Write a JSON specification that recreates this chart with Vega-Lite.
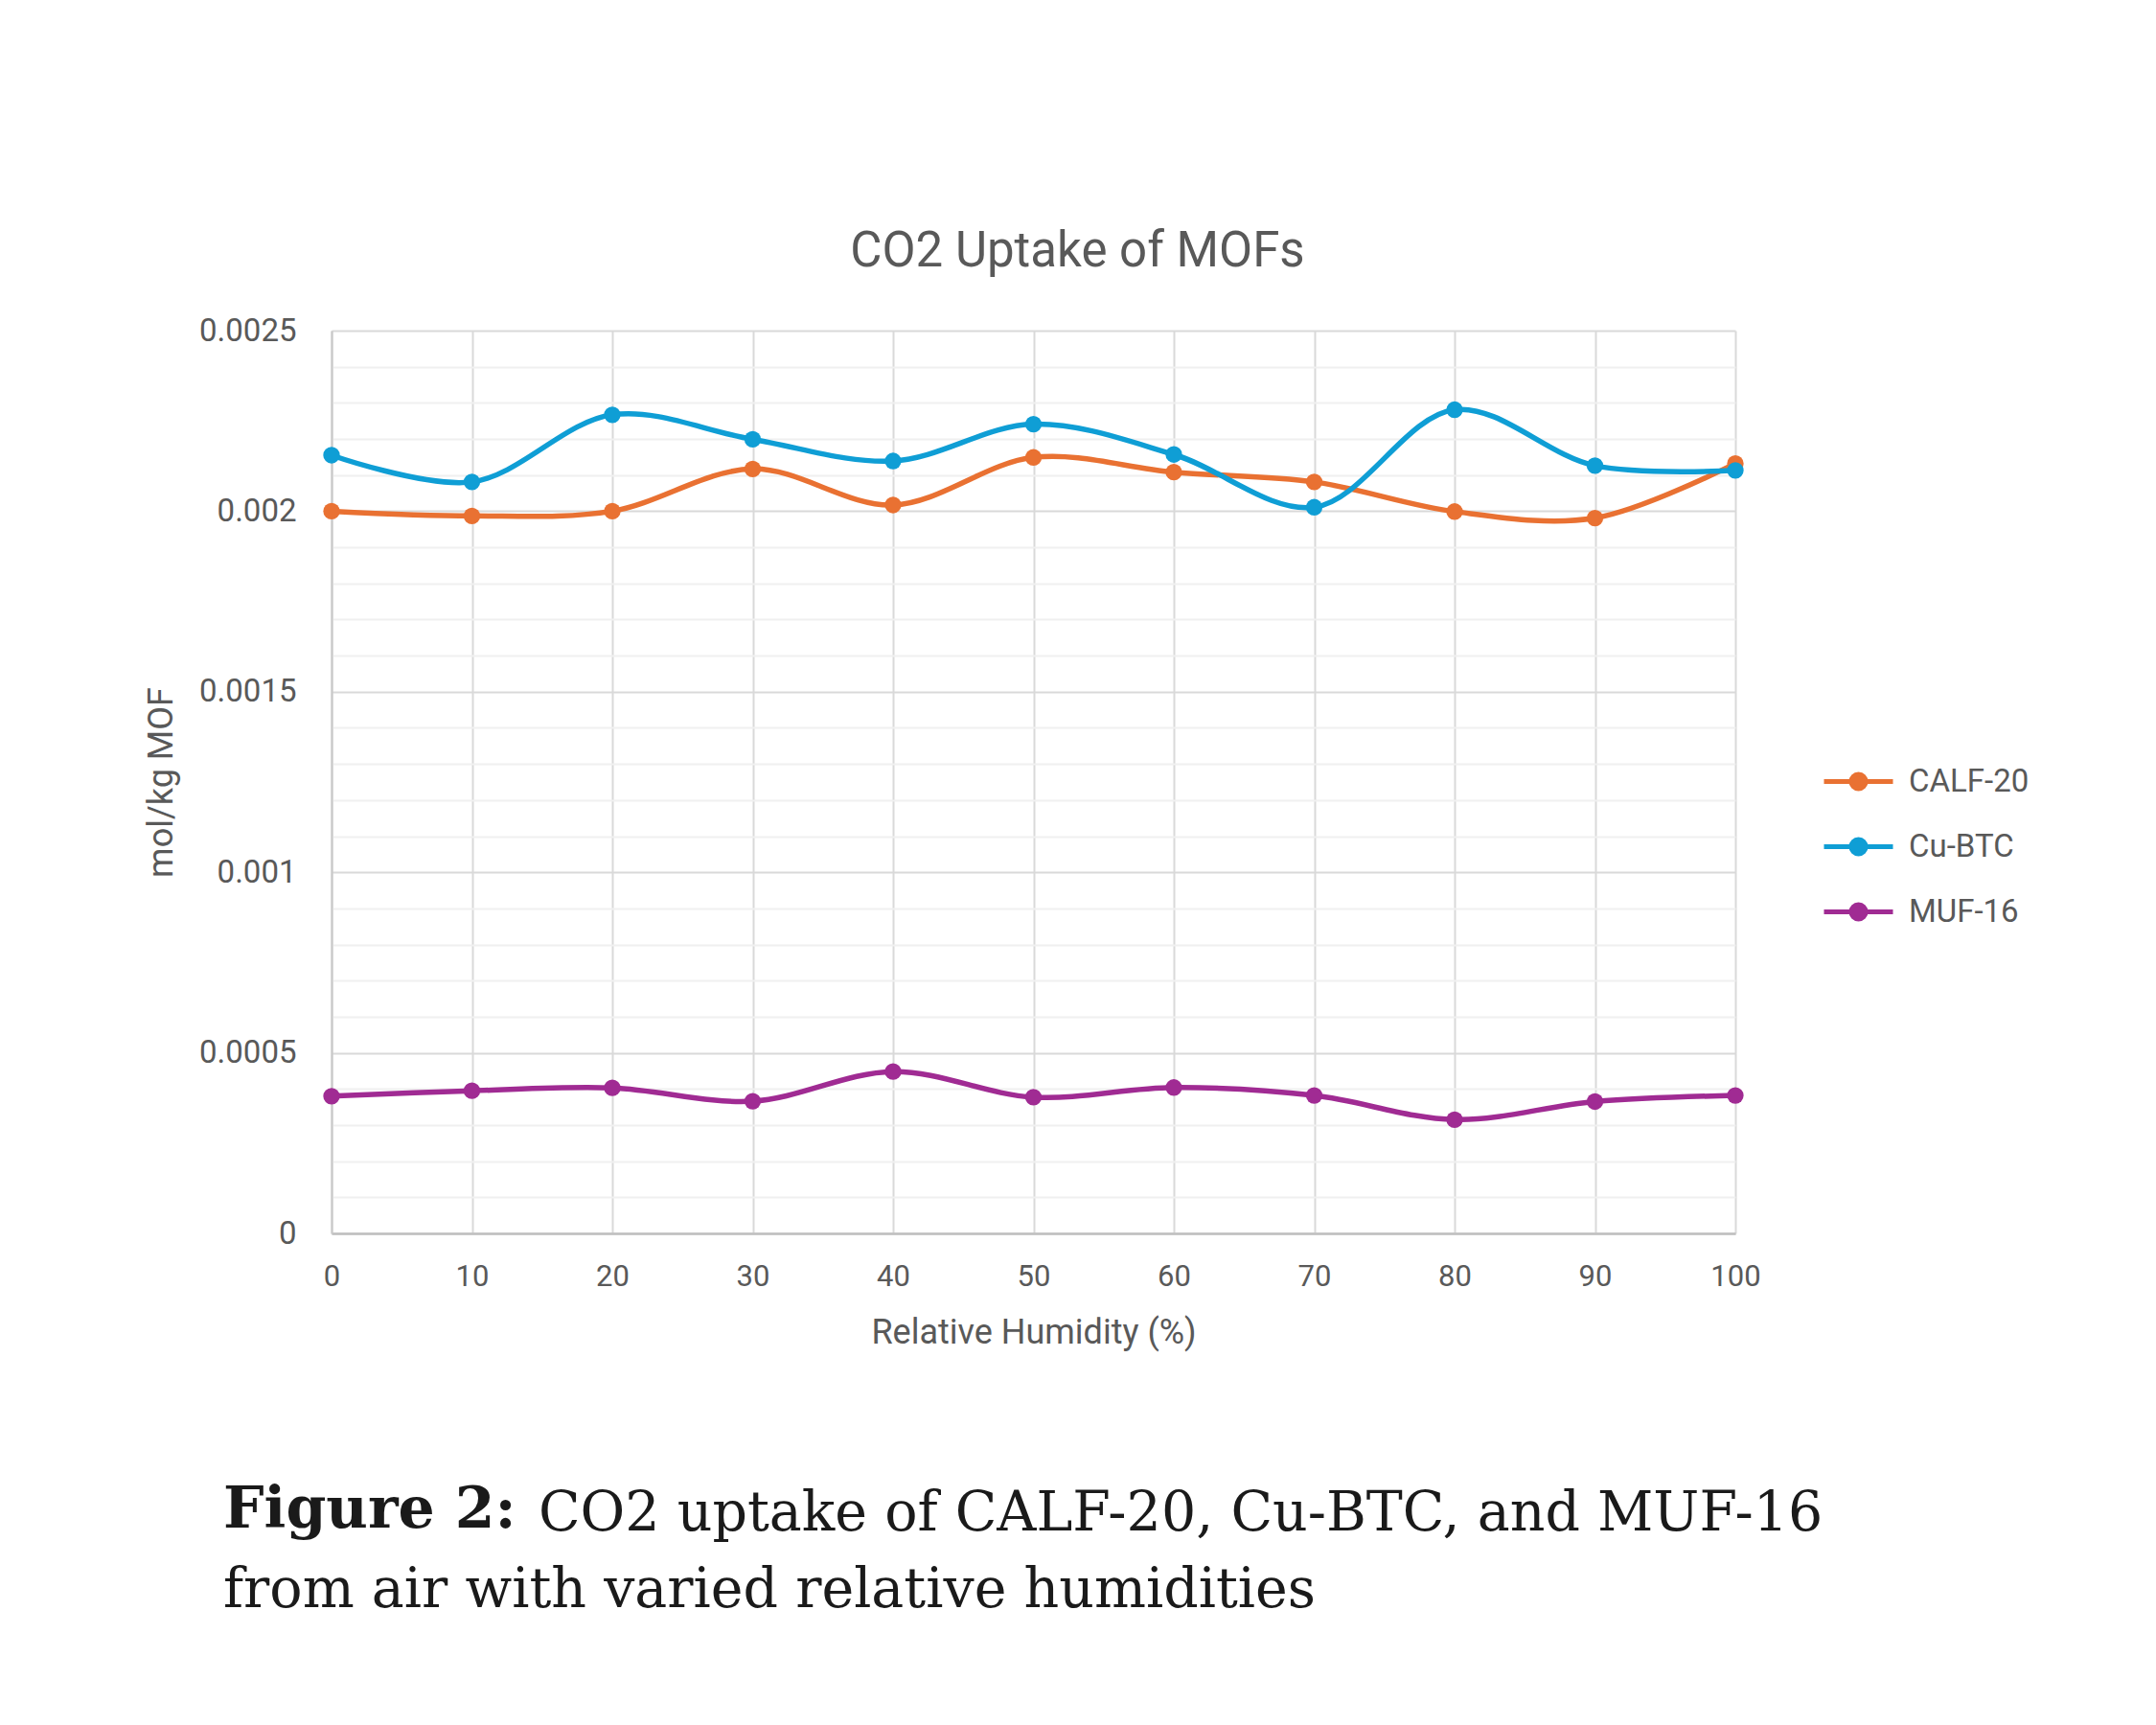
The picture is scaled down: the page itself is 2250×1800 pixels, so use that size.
{
  "$schema": "https://vega.github.io/schema/vega-lite/v6.json",
  "background": "white",
  "padding": {"top": 237, "left": 150, "right": 0, "bottom": 0},
  "config": {"view": {"stroke": null}, "font": "Roboto"},
  "datasets": {
    "mof": [
      {"rh": 0, "mof": "CALF-20", "uptake": 0.002},
      {"rh": 10, "mof": "CALF-20", "uptake": 0.001987},
      {"rh": 20, "mof": "CALF-20", "uptake": 0.002},
      {"rh": 30, "mof": "CALF-20", "uptake": 0.002117},
      {"rh": 40, "mof": "CALF-20", "uptake": 0.002017},
      {"rh": 50, "mof": "CALF-20", "uptake": 0.002149},
      {"rh": 60, "mof": "CALF-20", "uptake": 0.002108},
      {"rh": 70, "mof": "CALF-20", "uptake": 0.002081},
      {"rh": 80, "mof": "CALF-20", "uptake": 0.001999},
      {"rh": 90, "mof": "CALF-20", "uptake": 0.001981},
      {"rh": 100, "mof": "CALF-20", "uptake": 0.002132},
      {"rh": 0, "mof": "Cu-BTC", "uptake": 0.002155},
      {"rh": 10, "mof": "Cu-BTC", "uptake": 0.002081},
      {"rh": 20, "mof": "Cu-BTC", "uptake": 0.002267},
      {"rh": 30, "mof": "Cu-BTC", "uptake": 0.002199},
      {"rh": 40, "mof": "Cu-BTC", "uptake": 0.002139},
      {"rh": 50, "mof": "Cu-BTC", "uptake": 0.002241},
      {"rh": 60, "mof": "Cu-BTC", "uptake": 0.002157},
      {"rh": 70, "mof": "Cu-BTC", "uptake": 0.002011},
      {"rh": 80, "mof": "Cu-BTC", "uptake": 0.002281},
      {"rh": 90, "mof": "Cu-BTC", "uptake": 0.002126},
      {"rh": 100, "mof": "Cu-BTC", "uptake": 0.002113},
      {"rh": 0, "mof": "MUF-16", "uptake": 0.00038},
      {"rh": 10, "mof": "MUF-16", "uptake": 0.000395},
      {"rh": 20, "mof": "MUF-16", "uptake": 0.000403},
      {"rh": 30, "mof": "MUF-16", "uptake": 0.000366},
      {"rh": 40, "mof": "MUF-16", "uptake": 0.000448},
      {"rh": 50, "mof": "MUF-16", "uptake": 0.000377},
      {"rh": 60, "mof": "MUF-16", "uptake": 0.000404},
      {"rh": 70, "mof": "MUF-16", "uptake": 0.000382},
      {"rh": 80, "mof": "MUF-16", "uptake": 0.000315},
      {"rh": 90, "mof": "MUF-16", "uptake": 0.000365},
      {"rh": 100, "mof": "MUF-16", "uptake": 0.000382}
    ]
  },
  "spacing": 138,
  "vconcat": [
    {
      "width": 1465,
      "height": 942,
      "data": {"name": "mof"},
      "title": {"text": "CO2 Uptake of MOFs", "font": "Roboto", "fontSize": 51, "fontWeight": "normal", "color": "#595959", "baseline": "alphabetic", "offset": 0, "dx": 46},
      "resolve": {"axis": {"y": "independent", "x": "independent"}},
      "layer": [
        {
          "mark": {"type": "line", "opacity": 0},
          "encoding": {
            "x": {"field": "rh", "type": "quantitative", "scale": {"domain": [0, 100], "nice": false}, "axis": null},
            "y": {"field": "uptake", "type": "quantitative", "scale": {"domain": [0, 0.0025], "nice": false},
              "axis": {"orient": "left", "values": [0.0001, 0.0002, 0.0003, 0.0004, 0.0006, 0.0007, 0.0008, 0.0009, 0.0011, 0.0012, 0.0013, 0.0014, 0.0016, 0.0017, 0.0018, 0.0019, 0.0021, 0.0022, 0.0023, 0.0024],
                "grid": true, "gridColor": "#f0f0f0", "gridWidth": 2, "labels": false, "ticks": false, "domain": false, "title": null}},
            "detail": {"field": "mof"}
          }
        },
        {
          "mark": {"type": "line", "interpolate": "catmull-rom", "strokeWidth": 5.5, "point": {"filled": true, "size": 300}},
          "encoding": {
            "x": {"field": "rh", "type": "quantitative",
              "axis": {"orient": "bottom", "values": [0, 10, 20, 30, 40, 50, 60, 70, 80, 90, 100], "labelFlush": false, "grid": true, "gridColor": "#d9d9d9", "gridWidth": 2, "domainColor": "#bfbfbf", "domainWidth": 2.5, "ticks": false,
                "labelFont": "Roboto", "labelFontSize": 31, "labelColor": "#595959", "labelPadding": 30,
                "title": "Relative Humidity (%)", "titleFont": "Roboto", "titleFontSize": 36, "titleFontWeight": "normal", "titleColor": "#595959", "titlePadding": 26}},
            "y": {"field": "uptake", "type": "quantitative",
              "axis": {"orient": "left", "values": [0, 0.0005, 0.001, 0.0015, 0.002, 0.0025], "format": "~g", "grid": true, "gridColor": "#d9d9d9", "gridWidth": 2, "domainColor": "#c8c8c8", "domainWidth": 2, "ticks": false,
                "labelFont": "Roboto", "labelFontSize": 33, "labelColor": "#595959", "labelPadding": 37,
                "title": "mol/kg MOF", "titleFont": "Roboto", "titleFontSize": 36, "titleFontWeight": "normal", "titleColor": "#595959", "titlePadding": 20}},
            "color": {"field": "mof", "type": "nominal",
              "scale": {"domain": ["CALF-20", "Cu-BTC", "MUF-16"], "range": ["#E97132", "#0F9ED5", "#A02B93"]},
              "legend": {"orient": "none", "legendX": 1573, "legendY": 450, "title": null,
                "symbolType": "M-2,0L2,0M-0.42,0A0.42,0.42,0,1,1,0.42,0A0.42,0.42,0,1,1,-0.42,0Z",
                "symbolSize": 1296, "symbolStrokeWidth": 5,
                "labelFont": "Roboto", "labelFontSize": 33, "labelColor": "#595959", "labelOffset": 32, "rowPadding": 29,
                "encode": {"symbols": {"update": {
                  "fill": {"signal": "datum.value === 'CALF-20' ? '#E97132' : datum.value === 'Cu-BTC' ? '#0F9ED5' : '#A02B93'"},
                  "stroke": {"signal": "datum.value === 'CALF-20' ? '#E97132' : datum.value === 'Cu-BTC' ? '#0F9ED5' : '#A02B93'"},
                  "strokeWidth": {"value": 5},
                  "fillOpacity": {"value": 1}}}}}}
          }
        }
      ]
    },
    {
      "spacing": -24,
      "vconcat": [
        {
          "spacing": 23,
          "hconcat": [
            {"width": 1, "height": 1, "data": {"values": []}, "mark": "point", "encoding": {},
              "title": {"text": "Figure 2:", "font": "DejaVu Serif", "fontSize": 60, "fontWeight": "bold", "color": "#1a1a1a", "anchor": "start", "baseline": "alphabetic", "offset": 0, "dx": -113}},
            {"width": 1, "height": 1, "data": {"values": []}, "mark": "point", "encoding": {},
              "title": {"text": "CO2 uptake of CALF-20, Cu-BTC, and MUF-16", "font": "DejaVu Serif", "fontSize": 57, "fontWeight": "normal", "color": "#1a1a1a", "anchor": "start", "baseline": "alphabetic", "offset": 0, "dx": -113}}
          ]
        },
        {"width": 1, "height": 1, "data": {"values": []}, "mark": "point", "encoding": {},
          "title": {"text": "from air with varied relative humidities", "font": "DejaVu Serif", "fontSize": 57, "fontWeight": "normal", "color": "#1a1a1a", "anchor": "start", "baseline": "alphabetic", "offset": 0, "dx": -113}}
      ]
    }
  ]
}
